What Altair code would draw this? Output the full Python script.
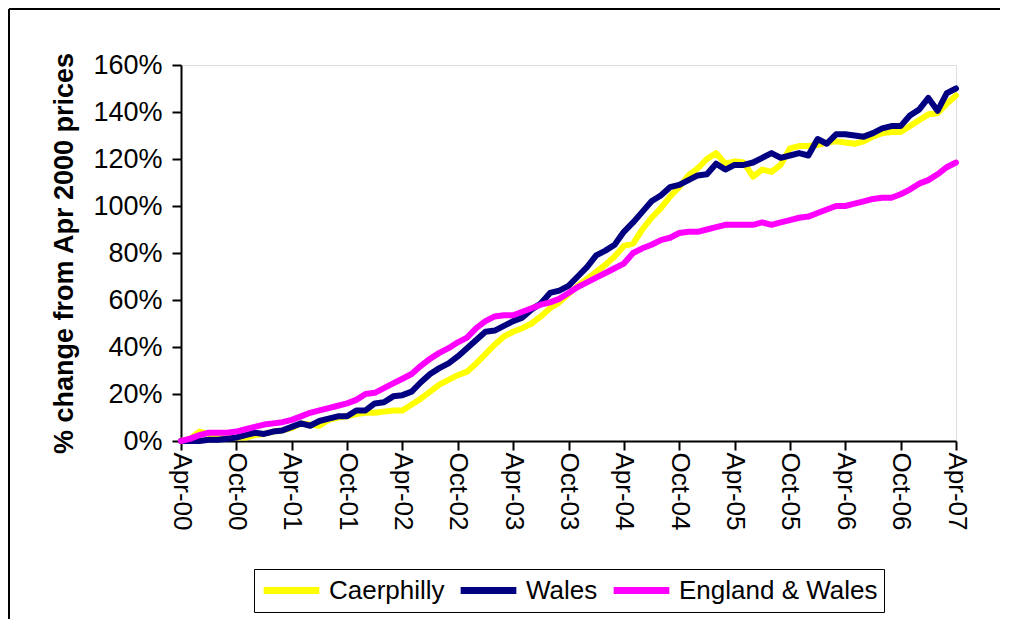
import altair as alt
import pandas as pd

# month index 0 = Apr-00 ... 84 = Apr-07
caerphilly = [0, 1, 4, 3, 2.5, 2, 1.5, 1.5, 2.5, 3, 4, 4.5, 5.5, 7.5, 7, 6.5, 9, 10, 10.5, 11.5,
              12, 12, 12.5, 13, 13, 15.5, 18, 21, 24, 26, 28, 29.5, 33, 37, 41, 44.5, 46.5, 48, 50, 53,
              56.5, 59, 62.5, 66, 69, 72, 75, 78.5, 83, 84, 90, 95, 99, 104, 108, 113, 116, 120, 122.5, 118,
              119, 118.5, 112.5, 115.5, 114.5, 117.5, 124.5, 125.5, 125.5, 126, 127, 127.5, 127, 126.5, 127.5, 129.5, 131, 131.5, 131.5, 134,
              136.5, 139, 139.5, 143.5, 147]
wales = [0, 0, 0, 0.5, 0.5, 1, 1.5, 2.5, 3.5, 3, 4, 4.5, 6, 7.5, 6.5, 8.5, 9.5, 10.5, 10.5, 13,
         13, 16, 16.5, 19, 19.5, 21, 25, 28.5, 31, 33, 36, 39.5, 43, 46.5, 47, 49, 51, 52.5, 56, 58.5,
         63, 64, 66, 70, 74, 79, 81, 83.5, 89, 93, 97.5, 102, 104.5, 108, 109, 111, 113, 113.5, 118, 115.5,
         117.5, 117.5, 118.5, 120.5, 122.5, 120.5, 121.5, 122.5, 121.5, 128.5, 126.5, 130.5, 130.5, 130, 129.5, 131, 133, 134, 134, 138.5,
         141, 146, 140.5, 148, 150]
england_wales = [0, 1, 2.5, 3.5, 3.5, 3.5, 4, 5, 6, 7, 7.5, 8, 9, 10.5, 12, 13, 14, 15, 16, 17.5,
                 20, 20.5, 22.5, 24.5, 26.5, 28.5, 32, 35, 37.5, 39.5, 42, 44, 48, 51, 53, 53.5, 53.5, 55, 56.5, 58,
                 59, 60.5, 63, 65.5, 67.5, 69.5, 71.5, 73.5, 75.5, 80, 82, 83.5, 85.5, 86.5, 88.5, 89, 89, 90, 91, 92,
                 92, 92, 92, 93, 92, 93, 94, 95, 95.5, 97, 98.5, 100, 100, 101, 102, 103, 103.5, 103.5, 105, 107,
                 109.5, 111, 113.5, 116.5, 118.5]

series_names = ["Caerphilly", "Wales", "England & Wales"]
series_colors = ["#FFFF00", "#000080", "#FF00FF"]
tick_labels = ["Apr-00", "Oct-00", "Apr-01", "Oct-01", "Apr-02", "Oct-02", "Apr-03", "Oct-03",
               "Apr-04", "Oct-04", "Apr-05", "Oct-05", "Apr-06", "Oct-06", "Apr-07"]
y_ticks = [0, 20, 40, 60, 80, 100, 120, 140, 160]

rows = []
for name, vals in zip(series_names, [caerphilly, wales, england_wales]):
    for i, v in enumerate(vals):
        rows.append({"month": i, "value": v, "series": name})
df = pd.DataFrame(rows)

label_arr = "[" + ",".join("'" + t + "'" for t in tick_labels) + "]"

FONT = "Liberation Sans, Arial"

lines = alt.Chart(df).mark_line(strokeWidth=6, strokeCap="round", strokeJoin="round").encode(
    x=alt.X("month:Q",
            scale=alt.Scale(domain=[0, 84], nice=False, zero=False),
            axis=alt.Axis(values=list(range(0, 85, 6)), labelExpr=label_arr + "[round(datum.value/6)]",
                          labelAngle=90, labelAlign="left", labelBaseline="middle",
                          labelFont=FONT, labelFontSize=26, labelColor="black", labelPadding=2,
                          domainColor="black", domainWidth=2, tickColor="black", tickWidth=2,
                          tickSize=9, grid=False, title=None, labelOverlap=False)),
    y=alt.Y("value:Q",
            scale=alt.Scale(domain=[0, 160], nice=False),
            axis=alt.Axis(values=y_ticks, labelExpr="datum.value + '%'",
                          labelFont=FONT, labelFontSize=27, labelColor="black", labelPadding=10,
                          domainColor="black", domainWidth=2, tickColor="black", tickWidth=2,
                          tickSize=9, grid=False,
                          title="% change from Apr 2000 prices", titleFont=FONT,
                          titleFontSize=27, titleFontWeight="bold", titleColor="black",
                          titlePadding=14)),
    color=alt.Color("series:N",
                    scale=alt.Scale(domain=series_names, range=series_colors),
                    sort=series_names,
                    legend=alt.Legend(orient="none", legendX=73, legendY=504, direction="horizontal",
                                      columns=3, title=None, symbolType="stroke",
                                      symbolStrokeWidth=7, symbolSize=3100, clipHeight=31,
                                      labelFont=FONT, labelFontSize=26, labelColor="black",
                                      labelOffset=6, columnPadding=12, padding=6,
                                      strokeColor="black", labelLimit=400)),
)

frame_src = pd.DataFrame({"f": [0]})
top_edge = alt.Chart(frame_src).mark_rule(stroke="black", strokeWidth=2).encode(
    x=alt.value(-172), x2=alt.value(900), y=alt.value(-56)
)
left_edge = alt.Chart(frame_src).mark_rule(stroke="black", strokeWidth=2).encode(
    x=alt.value(-172), y=alt.value(-56), y2=alt.value(700)
)

chart = alt.layer(top_edge, left_edge, lines).properties(
    width=775, height=376,
    autosize=alt.AutoSizeParams(type="none"),
    padding={"left": 173, "top": 57, "right": 44, "bottom": 178},
).configure_view(stroke=None).configure(background="white")

chart.save("out.html", embed_options={"renderer": "svg", "actions": False})
